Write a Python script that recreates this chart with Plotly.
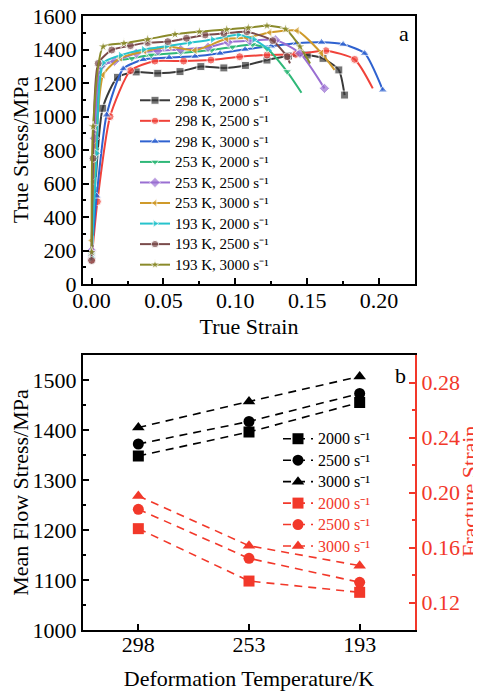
import plotly.graph_objects as go

# ---------------- Panel a data (true strain, true stress MPa) ----------------
labels_a = ["298 K, 2000 s⁻¹", "298 K, 2500 s⁻¹", "298 K, 3000 s⁻¹",
            "253 K, 2000 s⁻¹", "253 K, 2500 s⁻¹", "253 K, 3000 s⁻¹",
            "193 K, 2000 s⁻¹", "193 K, 2500 s⁻¹", "193 K, 3000 s⁻¹"]

strain_298_2000 = [0.0, 0.0077, 0.018, 0.031, 0.046, 0.0615, 0.076, 0.092, 0.107, 0.122, 0.137, 0.150, 0.161, 0.172, 0.176]
stress_298_2000 = [163, 1049, 1234, 1266, 1258, 1268, 1298, 1290, 1305, 1337, 1361, 1367, 1347, 1278, 1128]

strain_298_2500 = [0.0, 0.004, 0.0128, 0.027, 0.044, 0.064, 0.083, 0.103, 0.122, 0.142, 0.163, 0.183, 0.1956]
stress_298_2500 = [143, 492, 999, 1274, 1331, 1331, 1337, 1357, 1367, 1371, 1393, 1341, 1168]

strain_298_3000 = [0.0, 0.0035, 0.0104, 0.022, 0.036, 0.054, 0.072, 0.0894, 0.1068, 0.125, 0.1427, 0.160, 0.175, 0.190, 0.2026]
stress_298_3000 = [177, 525, 1009, 1285, 1340, 1352, 1359, 1377, 1401, 1420, 1437, 1443, 1431, 1377, 1158]

strain_253_2000 = [0.0, 0.003, 0.0083, 0.028, 0.0415, 0.062, 0.0836, 0.098, 0.112, 0.122, 0.136, 0.146]
stress_253_2000 = [180, 800, 1307, 1347, 1367, 1380, 1397, 1415, 1430, 1405, 1268, 1142]

strain_253_2500 = [0.0, 0.002, 0.0065, 0.016, 0.031, 0.046, 0.062, 0.081, 0.095, 0.11, 0.128, 0.145, 0.162]
stress_253_2500 = [200, 870, 1300, 1330, 1377, 1392, 1400, 1413, 1443, 1452, 1457, 1377, 1168]

strain_253_3000 = [0.0, 0.002, 0.008, 0.02, 0.037, 0.0545, 0.072, 0.094, 0.108, 0.124, 0.143, 0.160, 0.169]
stress_253_3000 = [260, 610, 1248, 1350, 1390, 1417, 1395, 1464, 1470, 1502, 1512, 1377, 1278]

strain_193_2000 = [0.0, 0.0035, 0.008, 0.02, 0.036, 0.052, 0.068, 0.084, 0.102, 0.113, 0.125]
stress_193_2000 = [160, 780, 1320, 1365, 1400, 1420, 1440, 1460, 1488, 1461, 1390]

strain_193_2500 = [0.0, 0.001, 0.0046, 0.014, 0.027, 0.039, 0.053, 0.066, 0.079, 0.092, 0.108, 0.126, 0.136, 0.138]
stress_193_2500 = [140, 750, 1317, 1397, 1423, 1441, 1447, 1467, 1487, 1496, 1506, 1453, 1357, 1317]

strain_193_3000 = [0.0, 0.001, 0.008, 0.0225, 0.039, 0.058, 0.075, 0.094, 0.109, 0.122, 0.135, 0.145, 0.152]
stress_193_3000 = [190, 940, 1417, 1437, 1461, 1491, 1506, 1520, 1530, 1542, 1522, 1417, 1317]

# ---------------- Panel b data ----------------
temperatures = ["298", "253", "193"]
rate_labels = ["2000 s⁻¹", "2500 s⁻¹", "3000 s⁻¹"]
flow_2000 = [1348, 1396, 1455]
flow_2500 = [1372, 1417, 1473]
flow_3000 = [1405, 1457, 1507]
frac_2000 = [0.1737, 0.1356, 0.1274]
frac_2500 = [0.1878, 0.1521, 0.1347]
frac_3000 = [0.1975, 0.1613, 0.1468]

FONT = "Liberation Serif"
W, H = 481, 695
OFF = 8  # page body margin


def px(x):
    return (x - OFF) / W


def py(y):
    return 1 - (y - OFF) / H


colors_a = ["#3a3a3a", "#f0423a", "#2f62d0", "#2fb878", "#9a6fd2", "#cf9a2a", "#26c3cc", "#7a4b4b", "#8a8a2a"]
symbols_a = ["square", "circle", "triangle-up", "triangle-down", "diamond", "triangle-left",
             "triangle-right", "circle", "star"]
end_marked = [True, False, True, False, True, False, False, False, False]
curves = [(strain_298_2000, stress_298_2000), (strain_298_2500, stress_298_2500),
          (strain_298_3000, stress_298_3000), (strain_253_2000, stress_253_2000),
          (strain_253_2500, stress_253_2500), (strain_253_3000, stress_253_3000),
          (strain_193_2000, stress_193_2000), (strain_193_2500, stress_193_2500),
          (strain_193_3000, stress_193_3000)]

fig = go.Figure()
for (xs, ys), name, c, s, em in zip(curves, labels_a, colors_a, symbols_a, end_marked):
    n = len(xs)
    sizes = [8] * (n - 1) + [8 if em else 0]
    fig.add_trace(go.Scatter(
        x=xs, y=ys, name="<span style='font-family:%s;font-size:15px'>%s</span>" % (FONT, name),
        mode="lines+markers",
        line=dict(color=c, width=2, shape="spline", smoothing=0.6),
        marker=dict(symbol=s, color=c, size=sizes),
        xaxis="x", yaxis="y", legend="legend"))

RED = "#f2382a"
sym_b = ["square", "circle", "triangle-up"]
for vals, name, s in zip([flow_2000, flow_2500, flow_3000], rate_labels, sym_b):
    fig.add_trace(go.Scatter(
        x=temperatures, y=vals, name="<span style='font-family:%s;font-size:16px'>%s</span>" % (FONT, name),
        mode="lines+markers",
        line=dict(color="black", width=1.6, dash="8px,6px"),
        marker=dict(symbol=s, color="black", size=11),
        xaxis="x2", yaxis="y2", legend="legend2"))
for vals, name, s in zip([frac_2000, frac_2500, frac_3000], rate_labels, sym_b):
    fig.add_trace(go.Scatter(
        x=temperatures, y=vals,
        name="<span style='font-family:%s;font-size:16px;fill:%s'>%s</span>" % (FONT, RED, name),
        mode="lines+markers",
        line=dict(color=RED, width=1.6, dash="8px,6px"),
        marker=dict(symbol=s, color=RED, size=11),
        xaxis="x2", yaxis="y3", legend="legend2"))

XD = [px(83), px(415)]
YA = [py(284), py(16)]
YB = [py(630), py(355)]
tf = dict(family=FONT, size=22, color="black")
common = dict(showline=True, linewidth=2, linecolor="black", ticks="inside", ticklen=6,
              tickwidth=1.5, tickcolor="black", showgrid=False, zeroline=False, tickfont=tf,
              automargin=False, ticklabeloverflow="allow")

fig.update_layout(
    width=W, height=H, margin=dict(l=0, r=0, t=0, b=0, autoexpand=False),
    paper_bgcolor="white", plot_bgcolor="white",
    font=dict(family=FONT, color="black"),
    xaxis=dict(domain=XD, anchor="y", range=[-0.006, 0.225], tickvals=[0, 0.05, 0.1, 0.15, 0.2],
               ticktext=["0.00", "0.05", "0.10", "0.15", "0.20"], mirror=True, ticklabelstandoff=-4,
               minor=dict(dtick=0.025, tick0=0, ticks="inside", ticklen=3, tickcolor="black"),
               title=dict(text="True Strain", font=tf, standoff=6), **common),
    yaxis=dict(domain=YA, anchor="x", range=[0, 1600], dtick=200, mirror=True,
               minor=dict(dtick=100, ticks="inside", ticklen=3, tickcolor="black"),
               title=dict(text="True Stress/MPa", font=tf, standoff=0), **common),
    xaxis2=dict(domain=XD, anchor="y2", type="category", range=[-0.5, 2.5], mirror=True,
                categoryorder="array", categoryarray=temperatures, ticklabelstandoff=-6,
                title=dict(text="Deformation Temperature/K", font=tf, standoff=14), **common),
    yaxis2=dict(domain=YB, anchor="x2", range=[1000, 1550], dtick=100, mirror=False,
                minor=dict(dtick=50, ticks="inside", ticklen=3, tickcolor="black"),
                title=dict(text="Mean Flow Stress/MPa", font=tf, standoff=0), **common),
    yaxis3=dict(overlaying="y2", anchor="x2", side="right", range=[0.1, 0.3],
                tickvals=[0.12, 0.16, 0.20, 0.24, 0.28], ticktext=["0.12", "0.16", "0.20", "0.24", "0.28"],
                showline=True, linewidth=2, linecolor=RED, ticks="inside", ticklen=6, tickwidth=1.5,
                tickcolor=RED, showgrid=False, zeroline=False, automargin=False,
                minor=dict(dtick=0.02, tick0=0.1, ticks="inside", ticklen=3, tickcolor=RED),
                tickfont=dict(family=FONT, size=22, color=RED)),
    legend=dict(x=px(135), y=py(85), xanchor="left", yanchor="top",
                bgcolor="rgba(0,0,0,0)", font=dict(family=FONT, size=13.5, color="black"),
                tracegroupgap=0, itemwidth=30),
    legend2=dict(x=px(278), y=py(423), xanchor="left", yanchor="top",
                 bgcolor="rgba(0,0,0,0)", font=dict(family=FONT, size=14.2, color="black"),
                 tracegroupgap=0, itemwidth=30),
    annotations=[
        dict(text="a", x=px(404), y=py(33), xref="paper", yref="paper", xanchor="center",
             yanchor="middle", showarrow=False, font=dict(family=FONT, size=22, color="black")),
        dict(text="b", x=px(400), y=py(375), xref="paper", yref="paper", xanchor="center",
             yanchor="middle", showarrow=False, font=dict(family=FONT, size=22, color="black")),
        dict(text="Fracture Strain", x=px(469), y=py(492), xref="paper", yref="paper",
             xanchor="center", yanchor="middle", textangle=-90, showarrow=False,
             font=dict(family=FONT, size=22, color=RED)),
    ],
)

fig.write_html("out.html")
